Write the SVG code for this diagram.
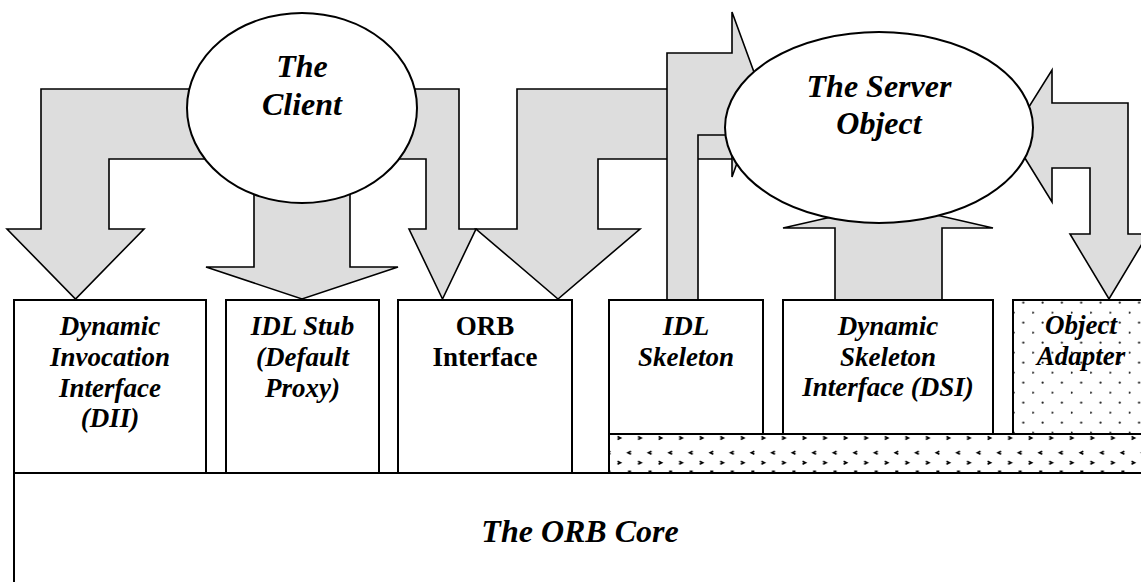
<svg xmlns="http://www.w3.org/2000/svg" width="1141" height="582" viewBox="0 0 1141 582">
  <defs>
    <style>
      .arrow { fill: #dddddd; stroke: #000; stroke-width: 1.6; stroke-linejoin: miter; }
      .bubble { fill: #fff; stroke: #000; stroke-width: 2; }
      .box { fill: #fff; stroke: #000; stroke-width: 2; }
      .label { font-family: "Liberation Serif", "Times New Roman", serif; font-weight: bold; font-style: italic; font-size: 27px; text-anchor: middle; fill: #000; }
      .plain { font-style: normal; }
      .big { font-size: 32px; }
      .mark { fill: none; stroke: #000; stroke-width: 1.6; }
    </style>
    <!-- chevron hatching used under the server-side components -->
    <pattern id="chevrons" patternUnits="userSpaceOnUse" x="614" y="434" width="20.56" height="39">
      <rect width="20.56" height="39" fill="#fff"/>
      <path class="mark" d="M3.5,2.5 l3,1.5 l-3,1.5 M3.5,27.2 l3,1.5 l-3,1.5 M17,17.2 l-3,1.5 l3,1.5 M14,37.3 h3"/>
    </pattern>
    <!-- staggered dot fill for the object adapter -->
    <pattern id="dots" patternUnits="userSpaceOnUse" x="1013" y="300" width="19.3" height="20">
      <rect width="19.3" height="20" fill="#fff"/>
      <circle cx="10.3" cy="2.7" r="1.1" fill="#222"/>
      <circle cx="0.65" cy="12.7" r="1.1" fill="#222"/>
    </pattern>
  </defs>

  <!-- flow arrows between the client / server objects and the ORB parts -->
  <g id="connectors">
    <polygon id="server-to-orb" class="arrow" points="760,89 517,89 517,229 476,229 558,299 640,229 598,229 598,159 760,159"/>
    <polygon id="skeleton-to-server" class="arrow" points="667,300 667,53 732,53 732,12 762,94 732,177 732,135 698,135 698,300"/>
    <polygon id="client-to-dii" class="arrow" points="260,89 41,89 41,229 7,229 75.5,299 144,229 109,229 109,159 260,159"/>
    <polygon id="client-to-stub" class="arrow" points="254,180 254,267 206,267 302,299 398,267 350,267 350,180"/>
    <polygon id="client-to-orb" class="arrow" points="360,89 459,89 459,229 476,229 442.5,299 409,229 426,229 426,159 360,159"/>
    <polygon id="dsi-to-server" class="arrow" points="835,300 835,228 783,228 888.5,204 993,228 942,228 942,300"/>
    <polygon id="server-adapter" class="arrow" points="1011,135.5 1052,70 1052,103 1128,103 1128,234 1148,234 1109,299 1070,234 1090,234 1090,168 1052,168 1052,202"/>
  </g>

  <g id="client">
    <ellipse class="bubble" cx="302" cy="108" rx="115" ry="95"/>
    <text class="label big" x="302" y="77">The</text>
    <text class="label big" x="302" y="115">Client</text>
  </g>

  <g id="server-object">
    <ellipse class="bubble" cx="879" cy="127.5" rx="154" ry="95.5"/>
    <text class="label big" x="879" y="97">The Server</text>
    <text class="label big" x="879" y="134">Object</text>
  </g>

  <g id="orb-core">
    <rect class="box" x="14" y="473" width="1140" height="130"/>
    <text class="label big" x="580" y="542">The ORB Core</text>
  </g>

  <g id="adapter-base">
    <rect class="box" x="609" y="434" width="545" height="39" style="fill:url(#chevrons)"/>
  </g>

  <g id="dii">
    <rect class="box" x="14" y="300" width="192" height="173"/>
    <text class="label" x="110" y="335">Dynamic</text>
    <text class="label" x="110" y="366">Invocation</text>
    <text class="label" x="110" y="397">Interface</text>
    <text class="label" x="110" y="427">(DII)</text>
  </g>

  <g id="idl-stub">
    <rect class="box" x="226" y="300" width="153" height="173"/>
    <text class="label" x="302.5" y="335">IDL Stub</text>
    <text class="label" x="302.5" y="366">(Default</text>
    <text class="label" x="302.5" y="397">Proxy)</text>
  </g>

  <g id="orb-interface">
    <rect class="box" x="398" y="300" width="174" height="173"/>
    <text class="label plain" x="485" y="335">ORB</text>
    <text class="label plain" x="485" y="366">Interface</text>
  </g>

  <g id="idl-skeleton">
    <rect class="box" x="609" y="300" width="154" height="134"/>
    <text class="label" x="686" y="335">IDL</text>
    <text class="label" x="686" y="366">Skeleton</text>
  </g>

  <g id="dsi">
    <rect class="box" x="783" y="300" width="210" height="134"/>
    <text class="label" x="888" y="335">Dynamic</text>
    <text class="label" x="888" y="366">Skeleton</text>
    <text class="label" x="888" y="396">Interface (DSI)</text>
  </g>

  <g id="object-adapter">
    <rect class="box" x="1013" y="300" width="140" height="134" style="fill:url(#dots)"/>
    <text class="label" x="1081" y="334">Object</text>
    <text class="label" x="1081" y="365">Adapter</text>
  </g>
</svg>
